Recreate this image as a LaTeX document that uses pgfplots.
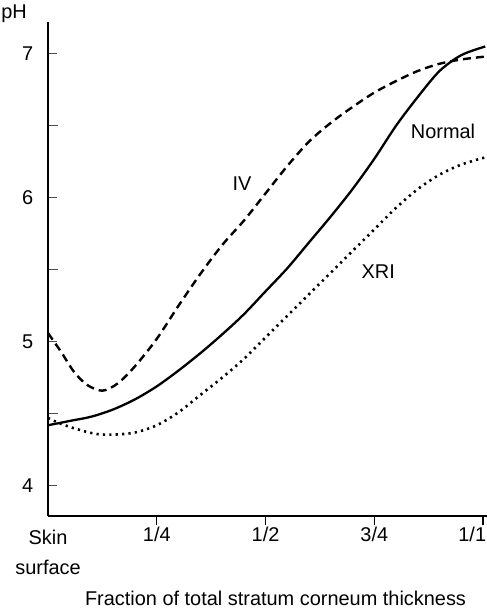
\documentclass[border=0pt]{standalone}
\usepackage{fontspec}
\setmainfont{Liberation Sans}
\usepackage{pgfplots}
\pgfplotsset{compat=1.18}

% pH profiles across the stratum corneum
\pgfplotstableread{
x      ph
0.000  4.420
0.050  4.450
0.100  4.480
0.150  4.530
0.200  4.600
0.250  4.690
0.300  4.800
0.350  4.920
0.400  5.050
0.450  5.190
0.500  5.350
0.550  5.510
0.600  5.690
0.650  5.870
0.700  6.060
0.750  6.270
0.800  6.500
0.850  6.700
0.900  6.880
0.950  6.990
1.005  7.050
}\normal

\pgfplotstableread{
x      ph
0.000  5.060
0.030  4.930
0.060  4.790
0.090  4.700
0.125  4.660
0.160  4.710
0.200  4.830
0.250  5.020
0.300  5.250
0.350  5.470
0.400  5.670
0.450  5.840
0.500  6.030
0.550  6.220
0.600  6.390
0.650  6.520
0.700  6.630
0.750  6.730
0.800  6.810
0.850  6.880
0.900  6.930
0.950  6.960
1.005  6.980
}\ivdata

\pgfplotstableread{
x      ph
0.000  4.470
0.030  4.430
0.070  4.390
0.110  4.360
0.150  4.355
0.200  4.370
0.250  4.420
0.300  4.510
0.350  4.630
0.400  4.750
0.450  4.880
0.500  5.030
0.550  5.180
0.600  5.330
0.650  5.480
0.700  5.630
0.750  5.780
0.800  5.930
0.850  6.060
0.900  6.160
0.950  6.230
1.005  6.280
}\xri

\begin{document}
\begin{tikzpicture}
\fontsize{20}{24}\selectfont
\begin{axis}[
  at={(0,0)}, anchor=south west,
  scale only axis,
  width=439bp, height=494bp,
  xmin=0, xmax=1.009,
  ymin=3.79, ymax=7.22,
  axis x line=bottom, axis y line=left,
  axis line style={-, line width=1.6bp},
  /pgf/number format/assume math mode=true,
  ticklabel style={font=\fontsize{20}{24}\selectfont},
  xtick={0.25,0.5,0.75,1},
  xticklabels={1/4,1/2,3/4,\hspace*{6bp}\makebox[0pt][r]{1/1}},
  extra x ticks={0},
  extra x tick labels={Skin\\surface},
  extra x tick style={major tick length=0pt,
    xticklabel style={align=center, font=\fontsize{20}{30}\selectfont, yshift=-12bp}},
  xtick style={line width=1.2bp, black},
  x tick label style={yshift=5bp},
  xtick align=outside,
  major tick length=9bp,
  ytick={4,5,6,7},
  minor ytick={4.5,5.5,6.5},
  ytick align=inside,
  ytick style={line width=0.9bp, black!70},
  minor tick length=10bp,
  yticklabel style={xshift=-8bp},
  clip=false,
]
\addplot[black, line width=2.3bp, smooth] table[x=x, y=ph] {\normal};
\addplot[black, line width=2.4bp, smooth, dash pattern=on 8bp off 5bp] table[x=x, y=ph] {\ivdata};
\addplot[black, line width=2.6bp, smooth, dash pattern=on 2.2bp off 4.2bp] table[x=x, y=ph] {\xri};

\node at (axis cs:0.908,6.46) {Normal};
\node at (axis cs:0.446,6.10) {IV};
\node at (axis cs:0.759,5.49) {XRI};
\end{axis}
\node at (-34bp,502bp) {pH};
\node at (227.5bp,-82bp) {Fraction of total stratum corneum thickness};
\pgfresetboundingbox
\path (-48bp,-93bp) rectangle (439bp,516bp);
\end{tikzpicture}
\end{document}
